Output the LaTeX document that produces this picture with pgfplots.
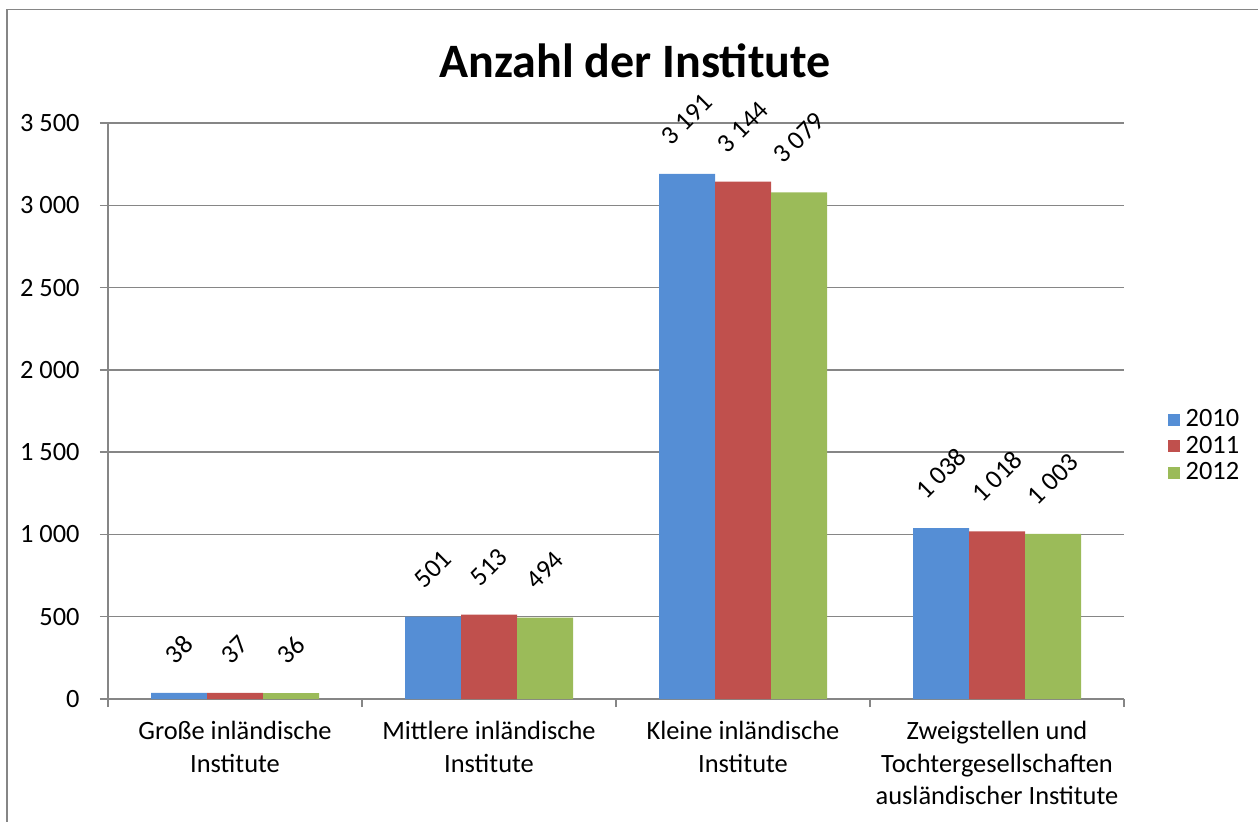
\documentclass[border=0pt]{standalone}
\usepackage{graphicx}
\usepackage{pgfplots}
\pgfplotsset{compat=1.18}
\usepackage{fontspec}
\setmainfont{Carlito}
\definecolor{c1}{HTML}{558ED5}
\definecolor{c2}{HTML}{C0504D}
\definecolor{c3}{HTML}{9BBB59}
\definecolor{gridc}{HTML}{868686}
\begin{document}
\begin{tikzpicture}
\useasboundingbox (0,0) rectangle (629pt,410.5pt);
\draw[gridc, line width=0.8pt] (3.5pt,-1pt) -- (3.5pt,405.75pt) -- (630pt,405.75pt);
\node[anchor=base, font=\fontsize{24pt}{28pt}\selectfont\bfseries] at (317.5pt,371.5pt) {Anzahl der Institute};
\begin{axis}[
  at={(54pt,61pt)}, anchor=south west,
  scale only axis, width=508pt, height=288pt,
  ybar=0pt, bar width=28pt,
  xmin=-0.5, xmax=3.5, ymin=0, ymax=3500,
  axis x line*=bottom, axis y line*=left,
  axis line style={gridc, line width=0.7pt, -},
  ytick={0,500,...,3500},
  yticklabels={0,500,1~000,1~500,2~000,2~500,3~000,3~500},
  ymajorgrids, grid style={gridc, line width=0.7pt},
  xtick={-0.5,0.5,1.5,2.5,3.5}, xticklabels={},
  extra x ticks={0,1,2,3},
  extra x tick labels={{Große inländische\\Institute},{Mittlere inländische\\Institute},{Kleine inländische\\Institute},{Zweigstellen und\\Tochtergesellschaften\\ausländischer Institute}},
  extra x tick style={major tick length=0pt, xmajorgrids=false},
  tick align=outside, major tick length=4pt,
  tick style={gridc, line width=0.7pt},
  ticklabel style={font=\fontsize{13.2pt}{15.5pt}\selectfont},
  yticklabel style={inner sep=0pt, xshift=-10pt},
  xticklabel style={align=center, inner sep=0pt, yshift=-11pt, font=\fontsize{13.2pt}{16.3pt}\selectfont},
  point meta=explicit symbolic,
  nodes near coords={\rotatebox{45}{\pgfplotspointmeta}},
  every node near coord/.append style={anchor=south, inner sep=0pt, yshift=13.5pt, text=black, font=\fontsize{13.2pt}{15.5pt}\selectfont},
  legend style={at={(1.043,0.439)}, anchor=west, draw=none, fill=none, inner sep=0pt,
    font=\fontsize{13.2pt}{15.5pt}\selectfont, row sep=0.2pt,
    nodes={inner ysep=1.5pt, inner xsep=2.8pt}},
  legend cell align=left,
]
\addplot[fill=c1, draw=none, legend image code/.code={\fill[c1] (0pt,-3pt) rectangle (6pt,3pt);}] coordinates {(0,38)[38] (1,501)[501] (2,3191)[3~191] (3,1038)[1~038]};
\addplot[fill=c2, draw=none, legend image code/.code={\fill[c2] (0pt,-3pt) rectangle (6pt,3pt);}] coordinates {(0,37)[37] (1,513)[513] (2,3144)[3~144] (3,1018)[1~018]};
\addplot[fill=c3, draw=none, legend image code/.code={\fill[c3] (0pt,-3pt) rectangle (6pt,3pt);}] coordinates {(0,36)[36] (1,494)[494] (2,3079)[3~079] (3,1003)[1~003]};
\legend{2010,2011,2012}
\end{axis}
\end{tikzpicture}
\end{document}
